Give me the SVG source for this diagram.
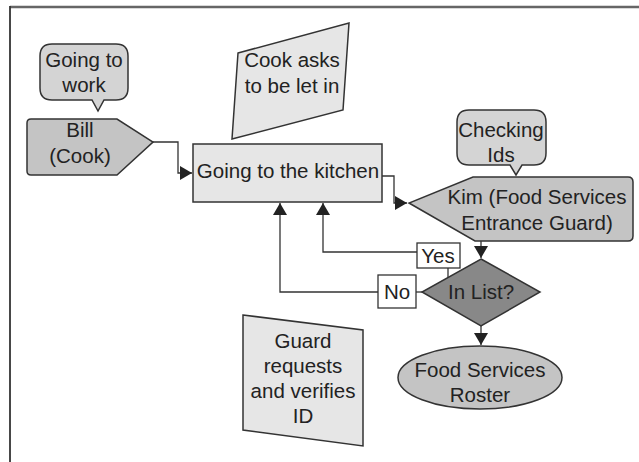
<svg xmlns="http://www.w3.org/2000/svg" width="639" height="462" viewBox="0 0 639 462">
<defs>
<style>
text{font-family:"Liberation Sans",Arial,sans-serif;font-size:20.5px;fill:#222;text-anchor:middle}
.shape{stroke:#333;stroke-width:1.5}
.light{fill:#e6e6e6}
.mid{fill:#c4c4c4}
.call{fill:#d4d4d4}
.dark{fill:#888}
.conn{fill:none;stroke:#333;stroke-width:1.3}
.lbl{fill:#fff;stroke:#333;stroke-width:1.3}
</style>
<marker id="arr" markerWidth="14" markerHeight="14" refX="12" refY="7" orient="auto" markerUnits="userSpaceOnUse">
<path d="M0,0 L12,7 L0,14 Z" fill="#222"/>
</marker>
</defs>
<rect width="639" height="462" fill="#fff"/>
<g id="frame">
<line x1="10" y1="7" x2="639" y2="7" stroke="#666" stroke-width="2.5"/>
<line x1="10" y1="6" x2="10" y2="462" stroke="#333" stroke-width="1.8"/>
</g>
<g id="connectors">
<polyline class="conn" points="153,142 178,142 178,173 192,173" marker-end="url(#arr)"/>
<polyline class="conn" points="382,176 394,176 394,203 407,203" marker-end="url(#arr)"/>
<polyline class="conn" points="481,241 481,258" marker-end="url(#arr)"/>
<polyline class="conn" points="481,326 481,345" marker-end="url(#arr)"/>
<polyline class="conn" points="448,278 448,268"/>
<polyline class="conn" points="417,252 323,252 323,203" marker-end="url(#arr)"/>
<polyline class="conn" points="422,292 416,292"/>
<polyline class="conn" points="378,292 280,292 280,203" marker-end="url(#arr)"/>
</g>
<g id="going-to-work">
<path class="shape call" d="M52,44 H116 Q128,44 128,56 V88 Q128,100 116,100 H104 L98,111 L92,100 H52 Q40,100 40,88 V56 Q40,44 52,44 Z"/>
<text x="84" y="67">Going to</text>
<text x="84" y="92">work</text>
</g>
<g id="bill">
<path class="shape mid" d="M31,119 H117 L153,142 L117,175 H31 Q27,175 27,171 V123 Q27,119 31,119 Z"/>
<text x="80" y="137">Bill</text>
<text x="80" y="163">(Cook)</text>
</g>
<g id="cook-asks">
<polygon class="shape light" points="238,53 349,23 343,110 232,139"/>
<text x="292" y="67">Cook asks</text>
<text x="292" y="93">to be let in</text>
</g>
<g id="kitchen">
<rect class="shape light" x="193" y="144" width="189" height="58"/>
<text x="288" y="178">Going to the kitchen</text>
</g>
<g id="checking-ids">
<path class="shape call" d="M469,110 H534 Q546,110 546,122 V153 Q546,165 534,165 H522 L516,175 L510,165 H469 Q457,165 457,153 V122 Q457,110 469,110 Z"/>
<text x="501" y="137">Checking</text>
<text x="501" y="162">Ids</text>
</g>
<g id="kim">
<path class="shape mid" d="M473,177 H628 Q633,177 633,182 V236 Q633,241 628,241 H475 L409,203 Z"/>
<text x="537" y="204">Kim (Food Services</text>
<text x="537" y="230">Entrance Guard)</text>
</g>
<g id="in-list">
<polygon class="shape dark" points="481,259 540,292 481,326 422,292"/>
<text x="481" y="299">In List?</text>
</g>
<g id="yes-label">
<rect class="lbl" x="417" y="243" width="43" height="25"/>
<text x="438" y="263">Yes</text>
</g>
<g id="no-label">
<rect class="lbl" x="378" y="275" width="38" height="33"/>
<text x="397" y="299">No</text>
</g>
<g id="roster">
<ellipse class="shape mid" cx="480" cy="377.5" rx="82" ry="31.5"/>
<text x="480" y="377">Food Services</text>
<text x="480" y="402">Roster</text>
</g>
<g id="guard-requests">
<polygon class="shape light" points="243,315 363,330 363,446 243,430"/>
<text x="303" y="348">Guard</text>
<text x="303" y="373">requests</text>
<text x="303" y="398">and verifies</text>
<text x="303" y="423">ID</text>
</g>
</svg>
